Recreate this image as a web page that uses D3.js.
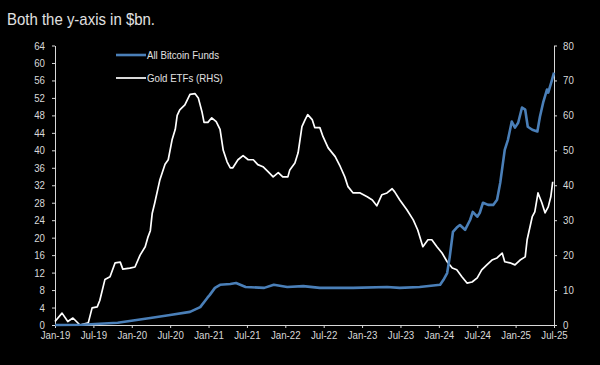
<!DOCTYPE html>
<html lang="en">
<head>
<meta charset="UTF-8">
<title>Bitcoin funds vs Gold ETFs</title>
<style>
  body { margin: 0; background: #000; }
  svg { display: block; font-family: "Liberation Sans", Arial, sans-serif; }
  .axis text { fill: #d9d9d9; font-size: 11px; }
  .axis path, .axis line { stroke: #d9d9d9; }
  .legend text { fill: #e0e0e0; font-size: 11px; }
</style>
</head>
<body>
<svg id="chart" width="600" height="365"></svg>
<script src="https://cdnjs.cloudflare.com/ajax/libs/d3/7.8.5/d3.min.js"></script>
<script>
// month offsets are counted from Jan-19
const xTickMonths = [0, 6, 12, 18, 24, 30, 36, 42, 48, 54, 60, 66, 72, 78];
const xTickLabels = ["Jan-19", "Jul-19", "Jan-20", "Jul-20", "Jan-21", "Jul-21", "Jan-22",
                     "Jul-22", "Jan-23", "Jul-23", "Jan-24", "Jul-24", "Jan-25", "Jul-25"];
const leftTicks = [0, 4, 8, 12, 16, 20, 24, 28, 32, 36, 40, 44, 48, 52, 56, 60, 64];
const rightTicks = [0, 10, 20, 30, 40, 50, 60, 70, 80];

// All Bitcoin Funds, $bn (left axis)
const btcMonths = [0, 4.2, 9.8, 14.9, 18.0, 21.1, 22.7, 23.8, 24.2, 25.0, 25.8, 27.4, 28.3, 29.8,
  32.7, 34.2, 36.3, 38.8, 41.4, 46.6, 51.9, 53.9, 57.0, 60.2, 60.7, 61.3, 61.7, 62.2, 62.8, 63.3,
  64.1, 64.9, 65.3, 66.0, 66.4, 66.9, 67.7, 68.5, 69.1, 69.6, 70.3, 70.8, 71.4, 71.9, 72.4, 73.0,
  73.5, 73.9, 74.6, 75.4, 75.8, 76.3, 76.9, 77.1, 77.7, 78.0];
const btcValues = [0, 0.05, 0.5, 1.6, 2.3, 3.0, 4.1, 6.2, 6.9, 8.5, 9.2, 9.4, 9.6, 8.7,
  8.5, 9.2, 8.7, 8.9, 8.5, 8.5, 8.7, 8.5, 8.7, 9.2, 10.3, 11.9, 15.6, 21.3, 22.3, 22.9,
  21.8, 24.1, 25.9, 24.8, 25.7, 28.0, 27.5, 27.5, 28.7, 32.6, 40.1, 42.4, 46.6, 45.2, 46.3, 49.8,
  49.3, 45.4, 44.7, 44.3, 47.7, 50.9, 53.9, 53.2, 56.2, 57.8];

// Gold ETFs, $bn (right axis)
const goldMonths = [0, 1.1, 2.0, 2.8, 3.9, 5.2, 5.8, 6.6, 7.0, 7.8, 8.6, 9.4, 10.2, 10.6, 11.7,
  12.5, 13.3, 14.1, 14.5, 14.9, 15.2, 15.6, 16.4, 17.2, 17.7, 18.3, 18.8, 19.1, 19.5, 20.3, 21.1,
  21.9, 22.4, 23.0, 23.3, 23.9, 24.5, 25.2, 25.8, 26.3, 26.9, 27.4, 27.8, 28.6, 29.4, 30.2, 31.0,
  31.7, 32.5, 33.3, 34.1, 34.9, 35.6, 36.4, 36.7, 37.5, 38.0, 38.6, 39.1, 39.5, 40.2, 40.6, 41.4,
  41.9, 42.7, 43.8, 44.6, 45.3, 45.8, 46.6, 47.7, 48.8, 49.6, 50.3, 51.1, 51.9, 52.7, 53.1, 53.9,
  55.0, 56.0, 56.7, 57.5, 58.3, 58.9, 59.7, 60.5, 61.3, 62.1, 62.8, 63.6, 64.4, 65.2, 66.0, 66.7,
  67.5, 68.3, 69.1, 69.9, 70.3, 71.1, 71.9, 72.7, 73.5, 73.8, 74.6, 75.0, 75.5, 76.1, 76.6, 77.1,
  77.5, 77.8];
const goldValues = [1, 3.4, 1, 2, 0, 0.6, 4.9, 5.2, 7, 13, 13.8, 17.8, 18, 16, 16.3,
  16.6, 20, 22.4, 25, 27, 32, 35, 41.6, 46, 47.3, 53, 56, 60, 61.6, 63, 66,
  66.2, 65, 60.8, 58, 58, 59.3, 58.2, 56, 50, 46.7, 45, 45, 47.3, 48.5, 47.3, 47.3,
  45.9, 45.3, 43.9, 42.4, 43.6, 42.4, 42.4, 44.4, 46.4, 49.3, 56.8, 58.8, 60.2, 58.8, 56.5, 56.5,
  53.9, 50.7, 48.2, 45.3, 42.4, 39.6, 37.8, 37.8, 36.7, 35.8, 34.1, 37.3, 37.8, 39, 38.1, 35.8,
  33, 30.1, 27.2, 22.4, 24.4, 24.4, 22.4, 20.6, 18.1, 16.3, 15.8, 13.8, 12, 12.3, 13.5, 15.8,
  17.2, 18.6, 19.2, 20.6, 18.1, 17.8, 17.2, 18.6, 19.5, 24.4, 31, 32.4, 37.8, 35, 32.1, 33.8,
  36.7, 41];

const svg = d3.select("#chart");
const x = d3.scaleLinear().domain([0, 78]).range([55, 554]);
const yL = d3.scaleLinear().domain([0, 64]).range([325, 45.5]);
const yR = d3.scaleLinear().domain([0, 80]).range([325, 45.5]);

svg.append("text")
    .attr("x", 7).attr("y", 25)
    .attr("fill", "#e0e0e0")
    .style("font-size", "17px")
    .text("Both the y-axis in $bn.");

svg.append("g").attr("class", "axis")
    .attr("transform", "translate(55,0)")
    .call(d3.axisLeft(yL).tickValues(leftTicks).tickSize(3).tickSizeOuter(0).tickPadding(7));

svg.append("g").attr("class", "axis")
    .attr("transform", "translate(554,0)")
    .call(d3.axisRight(yR).tickValues(rightTicks).tickSize(3).tickSizeOuter(0).tickPadding(6));

svg.append("g").attr("class", "axis")
    .attr("transform", "translate(0,325)")
    .call(d3.axisBottom(x).tickValues(xTickMonths).tickSize(3).tickSizeOuter(0).tickPadding(3)
        .tickFormat((d, i) => xTickLabels[i]));

const goldLine = d3.line().x((d, i) => x(goldMonths[i])).y(d => yR(d));
const btcLine = d3.line().x((d, i) => x(btcMonths[i])).y(d => yL(d));

svg.append("path")
    .attr("d", goldLine(goldValues))
    .attr("fill", "none").attr("stroke", "#ffffff").attr("stroke-width", 1.7)
    .attr("stroke-linejoin", "round");

svg.append("path")
    .attr("d", btcLine(btcValues))
    .attr("fill", "none").attr("stroke", "#4a7fb8").attr("stroke-width", 2.6)
    .attr("stroke-linejoin", "round");

// legend
const legend = svg.append("g").attr("class", "legend");
[["All Bitcoin Funds", "#4a7fb8", 2.6, 55], ["Gold ETFs (RHS)", "#ffffff", 1.7, 78]].forEach(([label, color, w, ly]) => {
    legend.append("line").attr("x1", 116).attr("x2", 146).attr("y1", ly).attr("y2", ly)
        .attr("stroke", color).attr("stroke-width", w);
    legend.append("text").attr("x", 147).attr("y", ly).attr("dy", "0.35em").text(label);
});

// the source font is a bit narrower than Arial
svg.selectAll("text").each(function() {
    const len = this.getComputedTextLength();
    d3.select(this).attr("textLength", len * 0.88).attr("lengthAdjust", "spacingAndGlyphs");
});
</script>
</body>
</html>
